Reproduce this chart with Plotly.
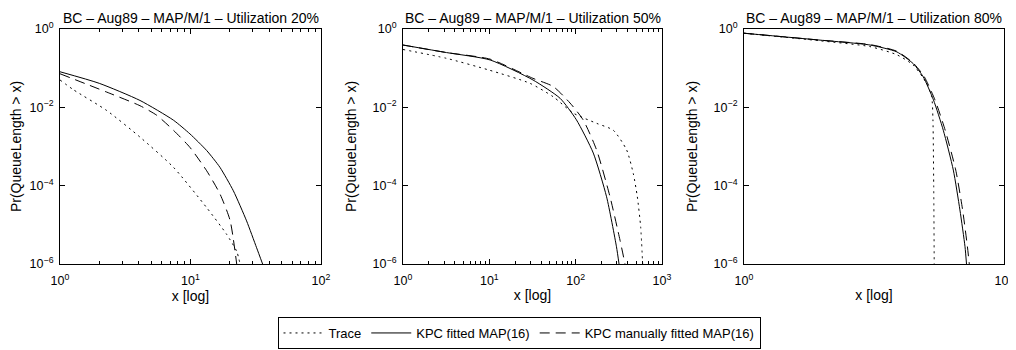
import plotly.graph_objects as go
from plotly.subplots import make_subplots

titles = ["BC – Aug89 – MAP/M/1 – Utilization 20%",
          "BC – Aug89 – MAP/M/1 – Utilization 50%",
          "BC – Aug89 – MAP/M/1 – Utilization 80%"]
series_names = ["Trace", "KPC fitted MAP(16)", "KPC manually fitted MAP(16)"]

# Panel 1 (utilization 20%)
p1_trace_x = [1, 1.27, 2.28, 4.1, 7.4, 13.3, 18.9, 22.6, 24]
p1_trace_y = [5e-2, 2.8e-2, 8.3e-3, 1.74e-3, 2.95e-4, 2.75e-5, 5.75e-6, 2.1e-6, 1e-6]
p1_kpc_x = [1, 2, 4.1, 7.4, 9.9, 13.3, 16.8, 21.3, 26.9, 32.1, 35.7]
p1_kpc_y = [8.1e-2, 4.1e-2, 1.5e-2, 4.7e-3, 2.1e-3, 7.9e-4, 2.95e-4, 7.4e-5, 1.26e-5, 2.6e-6, 1e-6]
p1_man_x = [1, 2.28, 4.1, 5.5, 7.4, 9.9, 13.3, 16.8, 20.1, 22.6]
p1_man_y = [7.2e-2, 2.45e-2, 1.1e-2, 6.3e-3, 2.6e-3, 9.5e-4, 2.4e-4, 6.2e-5, 1.3e-5, 1e-6]

# Panel 2 (utilization 50%)
p2_trace_x = [1, 3.2, 10, 29.6, 55, 94, 175, 273, 390, 466, 518, 566, 597]
p2_trace_y = [0.30, 0.178, 0.089, 0.041, 0.0186, 7.1e-3, 3.9e-3, 2.6e-3, 8.1e-4, 2.0e-4, 5.2e-5, 8.9e-6, 1e-6]
p2_kpc_x = [1, 3.2, 10.2, 32, 66, 102, 160, 228, 297, 318]
p2_kpc_y = [0.39, 0.25, 0.162, 0.050, 0.017, 4.8e-3, 6.8e-4, 5.2e-5, 2.75e-6, 1e-6]
p2_man_x = [1, 3.2, 10.2, 32, 55, 86, 122, 175, 250, 326, 373]
p2_man_y = [0.39, 0.25, 0.17, 0.055, 0.034, 0.0129, 4.8e-3, 8.1e-4, 5.2e-5, 4.1e-6, 1e-6]

# Panel 3 (utilization 80%)
p3_trace_x = [1, 29, 265, 870, 1800, 3250, 4070, 4300, 4450, 4550]
p3_trace_y = [0.78, 0.50, 0.355, 0.22, 0.12, 0.041, 0.0186, 4.8e-3, 1e-4, 1e-6]
p3_kpc_x = [1, 29, 265, 870, 1800, 2800, 4400, 6800, 10600, 14200, 17800, 19000]
p3_kpc_y = [0.78, 0.52, 0.39, 0.26, 0.13, 0.06, 0.0155, 2.6e-3, 2.5e-4, 2.4e-5, 2.75e-6, 1e-6]
p3_man_x = [1, 29, 265, 870, 1800, 2900, 4700, 7400, 11800, 16000, 19800, 21500]
p3_man_y = [0.78, 0.52, 0.40, 0.27, 0.135, 0.062, 0.0155, 2.6e-3, 2.5e-4, 2.4e-5, 2.75e-6, 1e-6]

x_tickvals = [[1, 10, 100], [1, 10, 100, 1000], [1, 100000]]
x_ticktext = [["10<sup>0</sup>", "10<sup>1</sup>", "10<sup>2</sup>"],
              ["10<sup>0</sup>", "10<sup>1</sup>", "10<sup>2</sup>", "10<sup>3</sup>"],
              ["10<sup>0</sup>", "10<sup>5</sup>"]]
x_minor_vals = [
    [2, 3, 4, 5, 6, 7, 8, 9, 20, 30, 40, 50, 60, 70, 80, 90],
    [2, 3, 4, 5, 6, 7, 8, 9, 20, 30, 40, 50, 60, 70, 80, 90, 200, 300, 400, 500, 600, 700, 800, 900],
    [],
]
x_ranges = [[0, 2], [0, 3], [0, 5]]
y_tickvals = [1, 1e-2, 1e-4, 1e-6]
y_ticktext = ["10<sup>0</sup>", "10<sup>−2</sup>", "10<sup>−4</sup>", "10<sup>−6</sup>"]

panels = [
    (p1_trace_x, p1_trace_y, p1_kpc_x, p1_kpc_y, p1_man_x, p1_man_y),
    (p2_trace_x, p2_trace_y, p2_kpc_x, p2_kpc_y, p2_man_x, p2_man_y),
    (p3_trace_x, p3_trace_y, p3_kpc_x, p3_kpc_y, p3_man_x, p3_man_y),
]

# The page body adds an 8px offset; figure coordinates are compensated for it.
W, H = 1016, 350
ml, mr, mt, mb = 52, 20, 21, 94
pw = W - ml - mr
domains = [[0.0, 261 / pw], [343 / pw, 602 / pw], [684 / pw, 1.0]]

fig = make_subplots(rows=1, cols=3)
dashes = ["2px,4px", "solid", "10px,6px"]
for i, (tx, ty, kx, ky, mx, my) in enumerate(panels):
    for j, (xx, yy) in enumerate([(tx, ty), (kx, ky), (mx, my)]):
        fig.add_trace(go.Scatter(x=xx, y=yy, mode="lines", name=series_names[j],
                                 line=dict(color="black", width=1, dash=dashes[j],
                                           shape="spline", smoothing=0.6),
                                 showlegend=(i == 0)), row=1, col=i + 1)

FAM = "Liberation Sans, Arial, Helvetica, sans-serif"
label_font = dict(family=FAM, size=14, color="black")
tick_font = dict(family=FAM, size=12.5, color="black")
legend_font = dict(family=FAM, size=13, color="black")

for i in range(3):
    xa = "xaxis" if i == 0 else f"xaxis{i+1}"
    ya = "yaxis" if i == 0 else f"yaxis{i+1}"
    xdict = dict(type="log", range=x_ranges[i], domain=domains[i], tickmode="array",
                 tickvals=x_tickvals[i], ticktext=x_ticktext[i], ticks="inside", ticklen=5,
                 tickcolor="black", showline=True, linecolor="black", linewidth=1,
                 mirror="allticks", showgrid=False, zeroline=False, tickfont=tick_font,
                 automargin=False, ticklabeloverflow="allow", ticklabelstandoff=5,
                 title=dict(text="x [log]", font=label_font, standoff=3))
    if x_minor_vals[i]:
        xdict["minor"] = dict(tickmode="array", tickvals=x_minor_vals[i], ticks="inside",
                              ticklen=3, tickcolor="black", showgrid=False)
    fig.layout[xa].update(xdict)
    fig.layout[ya].update(dict(type="log", range=[-6, 0], tickmode="array", tickvals=y_tickvals,
                               ticktext=y_ticktext, ticks="inside", ticklen=5, tickcolor="black",
                               showline=True, linecolor="black", linewidth=1, mirror="allticks",
                               showgrid=False, zeroline=False, tickfont=tick_font,
                               automargin=False, ticklabeloverflow="allow", ticklabelstandoff=3,
                               title=dict(text="Pr(QueueLength > x)", font=label_font, standoff=12)))
    d = domains[i]
    fig.add_annotation(text=titles[i], x=(d[0] + d[1]) / 2, y=1.0, xref="paper", yref="paper",
                       yanchor="bottom", xanchor="center", showarrow=False, yshift=2,
                       borderpad=0, font=label_font)

fig.update_layout(
    template="none",
    width=W, height=H, margin=dict(l=ml, r=mr, t=mt, b=mb),
    plot_bgcolor="white", paper_bgcolor="white",
    font=label_font,
    legend=dict(orientation="h", x=(511 - ml) / pw, xanchor="center",
                yref="container", y=1 - 309 / H, yanchor="top",
                bordercolor="black", borderwidth=1, bgcolor="white", font=legend_font,
                itemwidth=40, tracegroupgap=0),
)

fig.write_html("out.html")
